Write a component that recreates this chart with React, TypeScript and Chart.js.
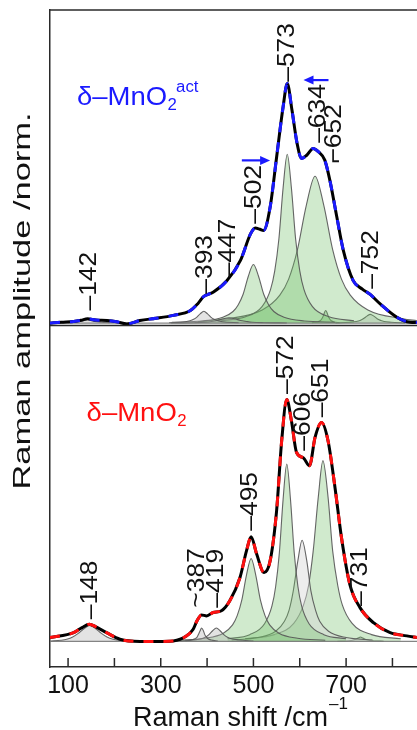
import { useEffect, useRef } from 'react';
import { Chart, registerables } from 'chart.js';
Chart.register(...registerables);

// ---------- axes ----------
const X_MIN = 61;
const X_MAX = 853;
const X_TICKS = [100, 200, 300, 400, 500, 600, 700, 800];
const X_TICK_LABELS = ['100', '', '300', '', '500', '', '700', ''];
const Y_MIN = -0.105;
const Y_MAX = 2.595;
const TOP_OFFSET = 1.308; // baseline of the upper spectrum
const SEPARATOR = 1.298;  // line between the two panels
const BASE_X = [61, 853];
const BASE_Y = [0, 0];

// ---------- δ-MnO2 act (upper, values relative to its baseline) ----------
const TOP_X = [61, 85, 112, 128, 142, 160, 184, 205, 227, 255, 290, 327, 364, 380, 393, 413, 443, 472, 494, 504, 514, 522, 536, 550, 564, 573, 583, 594, 604, 615, 629, 640, 654, 665, 680, 694, 715, 735, 752, 773, 809, 838, 853];
const TOP_Y = [0.000, 0.004, 0.007, 0.012, 0.018, 0.013, 0.011, 0.006, -0.003, 0.011, 0.020, 0.032, 0.052, 0.080, 0.110, 0.127, 0.175, 0.258, 0.368, 0.391, 0.386, 0.381, 0.476, 0.682, 0.888, 0.985, 0.878, 0.741, 0.677, 0.690, 0.718, 0.705, 0.670, 0.587, 0.436, 0.299, 0.176, 0.140, 0.118, 0.080, 0.025, 0.004, 0.003];

const T142_X = [100, 112, 127, 135, 142, 149, 157, 172, 190];
const T142_Y = [0.002, 0.004, 0.007, 0.011, 0.014, 0.011, 0.007, 0.004, 0.002];
const T393_X = [318, 353, 363, 371, 378, 385, 393, 401, 408, 415, 423, 433, 468];
const T393_Y = [0.002, 0.006, 0.010, 0.016, 0.025, 0.038, 0.049, 0.038, 0.025, 0.016, 0.010, 0.006, 0.002];
const T447_X = [322, 372, 397, 410, 422, 435, 447, 460, 472, 485, 497, 522, 572];
const T447_Y = [0.001, 0.002, 0.004, 0.007, 0.011, 0.018, 0.022, 0.018, 0.011, 0.007, 0.004, 0.002, 0.001];
const T502_X = [324, 390, 434, 456, 467, 478, 489, 500, 511, 522, 533, 544, 566, 610, 676];
const T502_Y = [0.004, 0.009, 0.024, 0.048, 0.075, 0.120, 0.193, 0.241, 0.193, 0.120, 0.075, 0.048, 0.024, 0.009, 0.004];
const T573_X = [429, 483, 519, 537, 546, 555, 564, 573, 582, 591, 600, 609, 627, 663, 717];
const T573_Y = [0.010, 0.026, 0.069, 0.139, 0.215, 0.347, 0.555, 0.694, 0.555, 0.347, 0.215, 0.139, 0.069, 0.026, 0.010];
const T634_X = [380, 443, 519, 557, 576, 595, 614, 633, 652, 671, 690, 709, 747, 823, 853];
const T634_Y = [0.006, 0.018, 0.054, 0.115, 0.181, 0.302, 0.483, 0.604, 0.483, 0.302, 0.181, 0.115, 0.054, 0.018, 0.010];
const T652_X = [626, 638, 644, 647, 650, 653, 656, 659, 662, 665, 668, 674, 686];
const T652_Y = [0.002, 0.005, 0.010, 0.016, 0.026, 0.042, 0.052, 0.042, 0.026, 0.016, 0.010, 0.005, 0.002];
const T752_X = [677, 707, 722, 730, 737, 745, 752, 760, 767, 775, 782, 797, 827];
const T752_Y = [0.001, 0.004, 0.007, 0.011, 0.018, 0.029, 0.036, 0.029, 0.018, 0.011, 0.007, 0.004, 0.001];

// ---------- δ-MnO2 (lower) ----------
const BOT_X = [61, 112, 130, 146, 160, 183, 212, 255, 291, 327, 356, 370, 378, 388, 399, 413, 431, 449, 471, 485, 495, 507, 523, 536, 550, 561, 572, 582, 593, 608, 621, 633, 647, 661, 676, 690, 708, 730, 759, 795, 831, 853];
const BOT_Y = [0.016, 0.036, 0.057, 0.071, 0.060, 0.036, 0.009, 0.000, 0.000, 0.002, 0.023, 0.050, 0.084, 0.109, 0.105, 0.119, 0.126, 0.167, 0.263, 0.372, 0.430, 0.359, 0.283, 0.331, 0.537, 0.825, 0.994, 0.907, 0.777, 0.754, 0.722, 0.839, 0.900, 0.825, 0.633, 0.427, 0.235, 0.139, 0.077, 0.036, 0.023, 0.016];

const B148_X = [61, 85, 97, 110, 122, 135, 147, 159, 172, 184, 197, 209, 235];
const B148_Y = [0.001, 0.005, 0.009, 0.018, 0.033, 0.053, 0.066, 0.053, 0.033, 0.018, 0.009, 0.005, 0.001];
const B387_X = [353, 367, 374, 378, 381, 385, 388, 392, 395, 399, 402, 409, 423];
const B387_Y = [0.002, 0.006, 0.011, 0.017, 0.028, 0.044, 0.055, 0.044, 0.028, 0.017, 0.011, 0.006, 0.002];
const B419_X = [340, 372, 388, 396, 404, 412, 420, 428, 436, 444, 452, 468, 500];
const B419_Y = [0.002, 0.006, 0.011, 0.017, 0.028, 0.044, 0.055, 0.044, 0.028, 0.017, 0.011, 0.006, 0.002];
const B495_X = [335, 395, 435, 455, 465, 475, 485, 495, 505, 515, 525, 535, 555, 595, 655];
const B495_Y = [0.005, 0.013, 0.034, 0.068, 0.106, 0.171, 0.273, 0.341, 0.273, 0.171, 0.106, 0.068, 0.034, 0.013, 0.005];
const B572_X = [444, 492, 524, 540, 548, 556, 564, 572, 580, 588, 596, 604, 620, 652, 700];
const B572_Y = [0.011, 0.028, 0.073, 0.146, 0.226, 0.365, 0.583, 0.729, 0.583, 0.365, 0.226, 0.146, 0.073, 0.028, 0.011];
const B606_X = [453, 510, 548, 567, 577, 586, 596, 605, 615, 624, 634, 643, 662, 700, 757];
const B606_Y = [0.006, 0.016, 0.042, 0.083, 0.129, 0.208, 0.333, 0.416, 0.333, 0.208, 0.129, 0.083, 0.042, 0.016, 0.006];
const B651_X = [482, 545, 587, 608, 619, 629, 640, 650, 661, 671, 682, 692, 713, 755, 818];
const B651_Y = [0.011, 0.028, 0.074, 0.149, 0.230, 0.372, 0.594, 0.743, 0.594, 0.372, 0.230, 0.149, 0.074, 0.028, 0.011];
const B731_X = [681, 701, 711, 716, 721, 726, 731, 736, 741, 746, 751, 761, 781];
const B731_Y = [0.001, 0.002, 0.004, 0.006, 0.009, 0.014, 0.018, 0.014, 0.009, 0.006, 0.004, 0.002, 0.001];

// ---------- annotations ----------
const TOP_LABELS = ['–142', '–393', '–447', '–502', '–573', '–634', '⌐652', '–752'];
const TOP_LABEL_X = [146, 396, 446, 503, 573, 640, 674, 755];
const TOP_LABEL_Y = [0.052, 0.121, 0.189, 0.409, 0.992, 0.741, 0.656, 0.141];
const BOT_LABELS = ['–148', '~387', '–419', '–495', '–572', '–606', '–651', '–731'];
const BOT_LABEL_X = [147.5, 378, 421, 494, 572, 608, 647, 730];
const BOT_LABEL_Y = [0.091, 0.139, 0.139, 0.455, 1.017, 0.784, 0.921, 0.146];
const ARROW_FROM_X = [475, 662];
const ARROW_TO_X = [536, 608];
const ARROW_Y = [0.669, 0.999]; // relative to upper baseline
const TITLE_X = [119, 140];
const TITLE_Y = [0.896, 0.907]; // upper one relative to its baseline

const BLUE = '#1a1aff';
const RED = '#ff1010';
const AXIS = '#2a2a2a';
const FONT = '"Liberation Sans", Arial, "DejaVu Sans", sans-serif';
const GREEN_FILL = 'rgba(110,190,100,0.32)';
const GRAY_FILL = 'rgba(175,175,175,0.35)';
const LIGHT_FILL = 'rgba(215,215,215,0.45)';
const COMP_LINE = 'rgba(85,85,85,0.9)';

const pts = (xs: number[], ys: number[], off = 0) => xs.map((x, i) => ({ x, y: ys[i] + off }));

function drawText(ctx: CanvasRenderingContext2D, s: string, x: number, y: number, size: number, color: string, sx = 1, rot = false, align: CanvasTextAlign = 'left', base: CanvasTextBaseline = 'alphabetic') {
  ctx.save();
  ctx.translate(x, y);
  if (rot) ctx.rotate(-Math.PI / 2);
  ctx.scale(sx, 1);
  ctx.font = `${size}px ${FONT}`;
  ctx.fillStyle = color;
  ctx.textAlign = align;
  ctx.textBaseline = base;
  ctx.fillText(s, 0, 0);
  ctx.restore();
}

const decor = {
  id: 'decor',
  afterDraw(chart: any) {
    const { ctx, chartArea: a, scales } = chart;
    const xs = scales.x;
    const ys = scales.y;
    ctx.save();
    ctx.strokeStyle = AXIS;
    ctx.lineWidth = 1.5;
    ctx.beginPath();
    ctx.moveTo(a.left, a.top);
    ctx.lineTo(a.right, a.top);
    const sy = ys.getPixelForValue(SEPARATOR);
    ctx.moveTo(a.left, sy);
    ctx.lineTo(a.right, sy);
    for (const t of xs.ticks) {
      const px = xs.getPixelForValue(t.value);
      ctx.moveTo(px, a.bottom);
      ctx.lineTo(px, a.bottom - 9);
    }
    ctx.stroke();

    // peak labels
    TOP_LABELS.forEach((s, i) => {
      drawText(ctx, s, xs.getPixelForValue(TOP_LABEL_X[i]), ys.getPixelForValue(TOP_LABEL_Y[i] + TOP_OFFSET), 24, '#111', 1.1, true, 'left', 'middle');
    });
    BOT_LABELS.forEach((s, i) => {
      drawText(ctx, s, xs.getPixelForValue(BOT_LABEL_X[i]), ys.getPixelForValue(BOT_LABEL_Y[i]), 24, '#111', 1.1, true, 'left', 'middle');
    });

    // arrows
    ctx.strokeStyle = BLUE;
    ctx.fillStyle = BLUE;
    ctx.lineWidth = 2.2;
    ARROW_FROM_X.forEach((fx, i) => {
      const x1 = xs.getPixelForValue(fx);
      const x2 = xs.getPixelForValue(ARROW_TO_X[i]);
      const y = ys.getPixelForValue(ARROW_Y[i] + TOP_OFFSET);
      const dir = Math.sign(x2 - x1);
      ctx.beginPath();
      ctx.moveTo(x1, y);
      ctx.lineTo(x2 - dir * 7, y);
      ctx.stroke();
      ctx.beginPath();
      ctx.moveTo(x2, y);
      ctx.lineTo(x2 - dir * 10, y - 4.5);
      ctx.lineTo(x2 - dir * 10, y + 4.5);
      ctx.closePath();
      ctx.fill();
    });

    // panel titles
    const titles = [
      { c: BLUE, sup: 'act', y: TITLE_Y[0] + TOP_OFFSET },
      { c: RED, sup: '', y: TITLE_Y[1] },
    ];
    titles.forEach((t, i) => {
      const px = xs.getPixelForValue(TITLE_X[i]);
      const py = ys.getPixelForValue(t.y);
      ctx.font = `25px ${FONT}`;
      const w = ctx.measureText('δ–MnO').width * 1.1;
      drawText(ctx, 'δ–MnO', px, py, 25, t.c, 1.1);
      drawText(ctx, '2', px + w + 0.5, py + 5, 16, t.c, 1.05);
      if (t.sup) drawText(ctx, t.sup, px + w + 9, py - 13, 16, t.c, 1.05);
    });

    // axis titles
    ctx.font = `24px ${FONT}`;
    const yw = ctx.measureText('Raman amplitude /norm.').width;
    drawText(ctx, 'Raman amplitude /norm.', 23, 301, 24, '#111', 377 / yw, true, 'center', 'middle');
    ctx.font = `27px ${FONT}`;
    const mw = ctx.measureText('Raman shift /cm').width;
    const x0 = 239 - (mw + 17) / 2;
    drawText(ctx, 'Raman shift /cm', x0, 726, 27, '#111');
    drawText(ctx, '–1', x0 + mw + 1, 709, 17, '#111');
    ctx.restore();
  },
};

export default function App() {
  const ref = useRef<HTMLCanvasElement | null>(null);
  useEffect(() => {
    if (!ref.current) return;
    const comp = (xs: number[], ys: number[], fillColor: string, off: number) => ({
      data: pts(xs, ys, off),
      borderColor: COMP_LINE,
      borderWidth: 1.1,
      backgroundColor: fillColor,
      fill: { value: off },
      pointRadius: 0,
      cubicInterpolationMode: 'monotone' as const,
      order: 10,
    });
    const spec = (xs: number[], ys: number[], off: number, color: string, dashed: boolean) => ({
      data: pts(xs, ys, off),
      borderColor: color,
      borderWidth: 3,
      borderDash: dashed ? [10, 10] : [],
      fill: false,
      pointRadius: 0,
      cubicInterpolationMode: 'monotone' as const,
      order: dashed ? 0 : 1,
    });
    const base = (off: number) => ({
      data: pts(BASE_X, BASE_Y, off),
      borderColor: 'rgba(120,120,120,0.9)',
      borderWidth: 1.2,
      fill: false,
      pointRadius: 0,
      order: 5,
    });
    const chart = new Chart(ref.current, {
      type: 'line',
      data: {
        datasets: [
          spec(TOP_X, TOP_Y, TOP_OFFSET, BLUE, true),
          spec(TOP_X, TOP_Y, TOP_OFFSET, '#000', false),
          spec(BOT_X, BOT_Y, 0, RED, true),
          spec(BOT_X, BOT_Y, 0, '#000', false),
          base(TOP_OFFSET),
          base(0),
          comp(T142_X, T142_Y, GRAY_FILL, TOP_OFFSET),
          comp(T393_X, T393_Y, GRAY_FILL, TOP_OFFSET),
          comp(T447_X, T447_Y, GRAY_FILL, TOP_OFFSET),
          comp(T502_X, T502_Y, GREEN_FILL, TOP_OFFSET),
          comp(T573_X, T573_Y, GREEN_FILL, TOP_OFFSET),
          comp(T634_X, T634_Y, GREEN_FILL, TOP_OFFSET),
          comp(T652_X, T652_Y, GREEN_FILL, TOP_OFFSET),
          comp(T752_X, T752_Y, GRAY_FILL, TOP_OFFSET),
          comp(B148_X, B148_Y, GRAY_FILL, 0),
          comp(B387_X, B387_Y, GRAY_FILL, 0),
          comp(B419_X, B419_Y, GRAY_FILL, 0),
          comp(B495_X, B495_Y, GREEN_FILL, 0),
          comp(B572_X, B572_Y, GREEN_FILL, 0),
          comp(B606_X, B606_Y, LIGHT_FILL, 0),
          comp(B651_X, B651_Y, GREEN_FILL, 0),
          comp(B731_X, B731_Y, GRAY_FILL, 0),
        ] as any,
      },
      options: {
        animation: false,
        responsive: false,
        devicePixelRatio: 1,
        parsing: false as any,
        normalized: true,
        layout: { padding: { left: 50, top: 10, right: 0, bottom: 25 } },
        plugins: { legend: { display: false }, tooltip: { enabled: false } },
        scales: {
          x: {
            type: 'linear',
            min: X_MIN,
            max: X_MAX,
            afterBuildTicks: (s: any) => { s.ticks = X_TICKS.map((v) => ({ value: v })); },
            ticks: {
              autoSkip: false,
              maxRotation: 0,
              padding: 4,
              color: '#111',
              font: { family: FONT, size: 25 },
              callback: (v: any) => X_TICK_LABELS[X_TICKS.indexOf(Number(v))] ?? '',
            },
            grid: { display: false, drawTicks: false },
            border: { display: true, color: AXIS, width: 1.5 },
          },
          y: {
            type: 'linear',
            min: Y_MIN,
            max: Y_MAX,
            ticks: { display: false },
            grid: { display: false, drawTicks: false },
            border: { display: true, color: AXIS, width: 1.5 },
          },
        },
      },
      plugins: [decor],
    });
    return () => chart.destroy();
  }, []);
  return (
    <div style={{ position: 'fixed', left: 0, top: 0, width: 417, height: 730, background: '#fff' }}>
      <canvas ref={ref} width={417} height={730} style={{ display: 'block' }} />
    </div>
  );
}
